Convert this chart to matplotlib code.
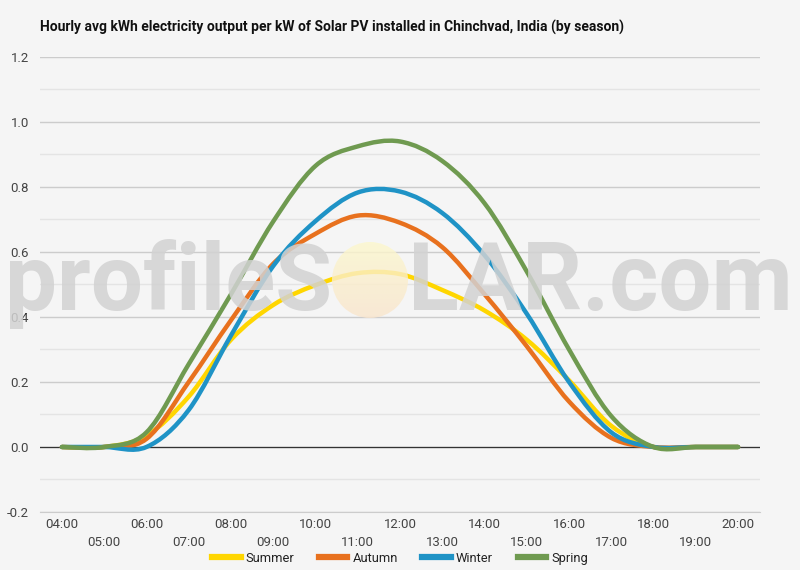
import matplotlib
matplotlib.use("Agg")
import matplotlib.pyplot as plt
import numpy as np
from matplotlib.path import Path
from matplotlib.patches import PathPatch, Circle
from matplotlib.lines import Line2D
from matplotlib.ticker import MultipleLocator

plt.rcParams['font.family'] = ['Roboto', 'DejaVu Sans']

hours = [4, 5, 6, 7, 8, 9, 10, 11, 12, 13, 14, 15, 16, 17, 18, 19, 20]
hour_labels = ["%02d:00" % h for h in hours]
summer = [0, 0, 0.035, 0.155, 0.33, 0.437, 0.498, 0.535, 0.532, 0.483, 0.42, 0.33, 0.205, 0.065, 0, 0, 0]
autumn = [0, 0, 0.025, 0.20, 0.39, 0.564, 0.656, 0.712, 0.69, 0.615, 0.47, 0.31, 0.14, 0.028, 0, 0, 0]
winter = [0, 0, 0.0, 0.114, 0.343, 0.557, 0.695, 0.783, 0.786, 0.72, 0.59, 0.41, 0.20, 0.045, 0, 0, 0]
spring = [0, 0, 0.045, 0.255, 0.47, 0.694, 0.865, 0.925, 0.94, 0.88, 0.75, 0.54, 0.30, 0.095, 0, 0, 0]

series = [("Summer", summer, "#ffd600"),
          ("Autumn", autumn, "#e8711e"),
          ("Winter", winter, "#1f93c6"),
          ("Spring", spring, "#6f9a50")]


def smooth_path(xs, ys):
    # catmull-rom -> cubic bezier segments, drawn by matplotlib's Path
    p = np.column_stack([xs, ys]).astype(float)
    n = len(p)
    verts = [p[0]]
    codes = [Path.MOVETO]
    for i in range(n - 1):
        p0 = p[i - 1] if i > 0 else p[i]
        p3 = p[i + 2] if i + 2 < n else p[i + 1]
        c1 = p[i] + (p[i + 1] - p0) / 6.0
        c2 = p[i + 1] - (p3 - p[i]) / 6.0
        verts += [c1, c2, p[i + 1]]
        codes += [Path.CURVE4] * 3
    return Path(verts, codes)


bg = "#f5f5f5"
W, H = 800, 570
fig = plt.figure(figsize=(8, 5.7), dpi=100, facecolor=bg)
ax = fig.add_axes([0.05, 0.1018, 0.90, 0.7982])
ax.set_facecolor(bg)

for name, vals, col in series:
    patch = PathPatch(smooth_path(hours, vals), facecolor="none", edgecolor=col,
                      lw=3.2, capstyle="round", joinstyle="round", zorder=3)
    ax.add_patch(patch)

ax.set_xlim(3.48, 20.52)
ax.set_ylim(-0.2, 1.2)
ax.yaxis.set_minor_locator(MultipleLocator(0.1))
ax.grid(which="major", axis="y", color="#cccccc", lw=1)
ax.grid(which="minor", axis="y", color="#e4e4e4", lw=1)
ax.set_axisbelow(True)
ax.axhline(0, color="#333333", lw=0.9, zorder=2)
yt = np.arange(-0.2, 1.21, 0.2)
ax.set_yticks(yt)
ax.set_yticklabels(["%.1f" % v for v in yt])

ax.set_xticks(hours[::2])
ax.set_xticklabels(hour_labels[::2])
ax.set_xticks(hours[1::2], minor=True)
ax.set_xticklabels(hour_labels[1::2], minor=True)
ax.tick_params(axis="x", which="major", length=0, pad=4, labelsize=9.5, colors="#444444")
ax.tick_params(axis="x", which="minor", length=0, pad=17, labelsize=9.5, colors="#444444")
ax.tick_params(axis="y", which="both", length=0, pad=8, labelsize=9.5, colors="#444444")

for s in ["top", "right", "left"]:
    ax.spines[s].set_visible(False)
ax.spines["bottom"].set_color("#cccccc")

fig.text(0.05, 0.951, "Hourly avg kWh electricity output per kW of Solar PV installed in Chinchvad, India (by season)",
         fontsize=10, fontweight="bold", color="#111111", va="center", ha="left")

# watermark, sized to fit its span in pixels
wm_col = "#d2d2d2"
base_y = 1 - 310 / H
renderer = fig.canvas.get_renderer()
pieces = [("profileS", 5, 332, "right"), ("LAR.com", 408, 793, "left")]
for txt, x0, x1, ha in pieces:
    t = fig.text(x1 / W if ha == "right" else x0 / W, base_y, txt, fontsize=60,
                 fontweight="bold", family="Roboto", color=wm_col, alpha=0.85,
                 ha=ha, va="baseline", zorder=5)
    w = t.get_window_extent(renderer).width
    t.set_fontsize(60 * (x1 - x0) / w)

# sun in place of the O, soft yellow -> peach
sun_ax = fig.add_axes([332 / W, 1 - 318 / H, 76 / W, 76 / H], zorder=6)
sun_ax.axis("off")
top = np.array([0.99, 0.97, 0.80])
bot = np.array([0.98, 0.90, 0.80])
tt = np.linspace(0, 1, 64)[:, None]
grad = top * (1 - tt[..., None]) + bot * tt[..., None]
grad = np.repeat(grad, 64, axis=1)
img = sun_ax.imshow(grad, extent=[0, 1, 0, 1], origin="upper", alpha=0.8, aspect="auto")
clip = Circle((0.5, 0.5), 0.5, transform=sun_ax.transData)
img.set_clip_path(clip)
sun_ax.set_xlim(0, 1)
sun_ax.set_ylim(0, 1)

handles = [Line2D([0], [0], color=c, lw=4.5) for _, _, c in series]
fig.legend(handles, [n for n, _, _ in series], loc="center", bbox_to_anchor=(0.5, 0.021),
           ncol=4, frameon=False, fontsize=9.3, handlelength=2.2, handletextpad=0.4,
           columnspacing=1.9, labelcolor="#222222")

fig.savefig("out.png", dpi=100, facecolor=bg)
